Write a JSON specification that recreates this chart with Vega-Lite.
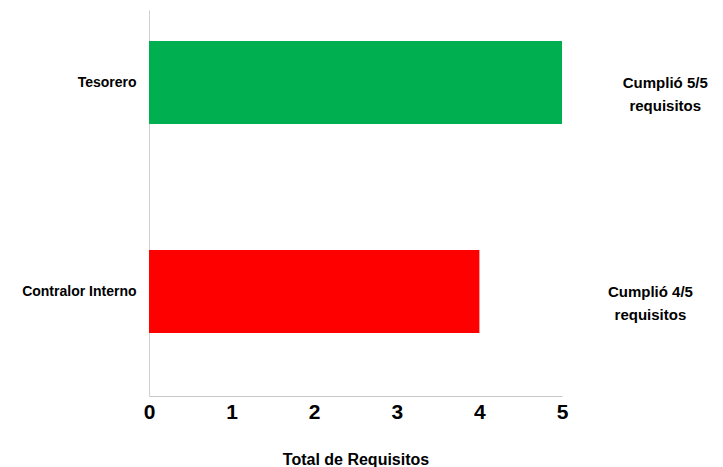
{
  "$schema": "https://vega.github.io/schema/vega-lite/v6.json",
  "autosize": "none",
  "width": 413,
  "height": 386,
  "padding": {"left": 149, "top": 10, "right": 161, "bottom": 71},
  "background": "white",
  "config": {
    "view": {"stroke": null},
    "font": "Liberation Sans"
  },
  "data": {
    "values": [
      {"cargo": "Tesorero", "requisitos": 5, "nota": "Cumplió 5/5\nrequisitos", "color": "verde"},
      {"cargo": "Contralor Interno", "requisitos": 4, "nota": "Cumplió 4/5\nrequisitos", "color": "rojo"}
    ]
  },
  "encoding": {
    "y": {
      "field": "cargo",
      "type": "nominal",
      "sort": ["Tesorero", "Contralor Interno"],
      "scale": {"paddingInner": 0.603, "paddingOuter": 0.225, "align": 0.33},
      "axis": {
        "title": null,
        "ticks": false,
        "domainColor": "#d0d0d0",
        "labelFont": "Liberation Sans",
        "labelFontWeight": "bold",
        "labelFontSize": 14,
        "labelColor": "#000000",
        "labelPadding": 13
      }
    }
  },
  "layer": [
    {
      "mark": {"type": "bar"},
      "encoding": {
        "x": {
          "field": "requisitos",
          "type": "quantitative",
          "scale": {"domain": [0, 5], "nice": false},
          "axis": {
            "title": "Total de Requisitos",
            "values": [0, 1, 2, 3, 4, 5],
            "format": "d",
            "grid": false,
            "ticks": false,
            "domain": true,
            "domainColor": "#c8c8c8",
            "domainWidth": 1,
            "labelFont": "Liberation Sans",
            "labelFontWeight": "bold",
            "labelFontSize": 21,
            "labelColor": "#000000",
            "labelPadding": 5,
            "labelFlush": false,
            "titleFont": "Liberation Sans",
            "titleFontWeight": "bold",
            "titleFontSize": 16,
            "titleColor": "#000000",
            "titlePadding": 29
          }
        },
        "color": {
          "field": "color",
          "type": "nominal",
          "scale": {"domain": ["verde", "rojo"], "range": ["#00B050", "#FF0000"]},
          "legend": null
        }
      }
    },
    {
      "transform": [{"filter": "datum.cargo === 'Tesorero'"}],
      "mark": {"type": "text", "lineBreak": "\n", "align": "center", "baseline": "middle", "font": "Liberation Sans", "fontWeight": "bold", "fontSize": 15, "lineHeight": 23, "color": "#000000"},
      "encoding": {
        "x": {"datum": 6.25, "type": "quantitative"},
        "text": {"field": "nota"}
      }
    },
    {
      "transform": [{"filter": "datum.cargo === 'Contralor Interno'"}],
      "mark": {"type": "text", "lineBreak": "\n", "align": "center", "baseline": "middle", "font": "Liberation Sans", "fontWeight": "bold", "fontSize": 15, "lineHeight": 23, "color": "#000000"},
      "encoding": {
        "x": {"datum": 6.07, "type": "quantitative"},
        "text": {"field": "nota"}
      }
    }
  ]
}
